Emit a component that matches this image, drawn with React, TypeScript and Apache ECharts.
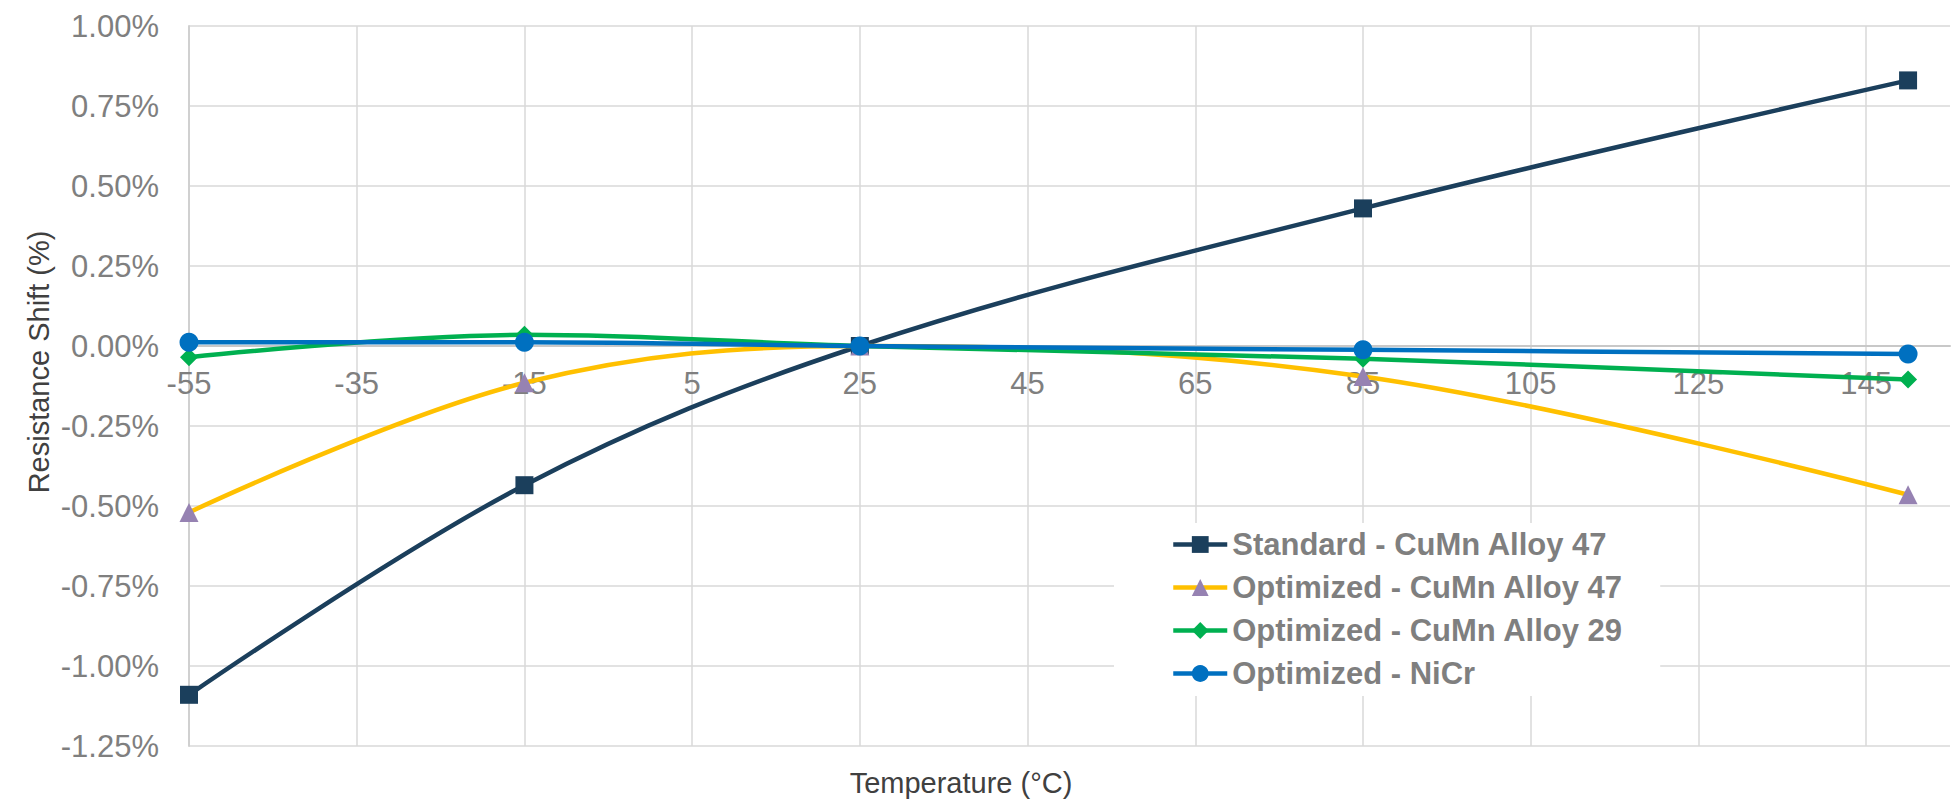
import React, { useEffect, useRef } from "react";
import * as echarts from "echarts";

const temperatures = [-55, -15, 25, 85, 150];
const standardCuMn47 = [-1.09, -0.435, 0, 0.43, 0.83];
const optimizedCuMn47 = [-0.52, -0.115, 0, -0.095, -0.465];
const optimizedCuMn29 = [-0.035, 0.035, 0, -0.04, -0.105];
const optimizedNiCr = [0.012, 0.012, 0, -0.012, -0.025];

const seriesNames = [
  "Standard - CuMn Alloy 47",
  "Optimized - CuMn Alloy 47",
  "Optimized - CuMn Alloy 29",
  "Optimized - NiCr",
];

const FONT = "'Liberation Sans', Arial, Helvetica, sans-serif";

function pairs(values: number[]) {
  return temperatures.map((t, i) => [t, values[i]]);
}

export default function App() {
  const ref = useRef<HTMLDivElement>(null);

  useEffect(() => {
    if (!ref.current) return;
    const chart = echarts.init(ref.current, null, { renderer: "svg" });

    const mk = (
      name: string,
      values: number[],
      lineColor: string,
      markerColor: string,
      symbol: string,
      size: number | number[]
    ) => ({
      name,
      type: "line",
      data: pairs(values),
      smooth: 0.36,
      symbol,
      symbolSize: size,
      showAllSymbol: true,
      lineStyle: { color: lineColor, width: 4.5 },
      itemStyle: { color: markerColor, borderWidth: 0 },
      emphasis: { disabled: true },
    });

    chart.setOption({
      animation: false,
      backgroundColor: "#ffffff",
      textStyle: { fontFamily: FONT },
      grid: { left: 189, top: 26, width: 1761, height: 720, containLabel: false },
      xAxis: {
        type: "value",
        min: -55,
        max: 155,
        interval: 20,
        offset: -400,
        axisLine: { onZero: false, lineStyle: { color: "#c8c8c8", width: 2 } },
        axisTick: { show: false },
        axisLabel: {
          color: "#7f7f7f",
          fontSize: 31,
          fontFamily: FONT,
          margin: 22,
          showMaxLabel: false,
          formatter: (v: number) => (v > 150 ? "" : String(v)),
        },
        splitLine: {
          show: true,
          showMinLine: false,
          showMaxLine: false,
          lineStyle: { color: "#d9d9d9", width: 1.5 },
        },
      },
      yAxis: {
        type: "value",
        min: -1.25,
        max: 1.0,
        interval: 0.25,
        axisLine: { show: true, onZero: false, lineStyle: { color: "#d0d0d0", width: 2 } },
        axisTick: { show: false },
        axisLabel: {
          color: "#7f7f7f",
          fontSize: 31,
          fontFamily: FONT,
          margin: 30,
          formatter: (v: number) => v.toFixed(2) + "%",
        },
        splitLine: { show: true, lineStyle: { color: "#d9d9d9", width: 1.5 } },
      },
      legend: {
        orient: "vertical",
        left: 1114,
        top: 523,
        padding: [6, 37, 7, 57],
        backgroundColor: "#ffffff",
        itemWidth: 54,
        itemHeight: 21,
        itemGap: 12,
        lineStyle: { width: 4.5 },
        textStyle: {
          color: "#7f7f7f",
          fontSize: 31,
          fontWeight: "bold",
          fontFamily: FONT,
          lineHeight: 31,
        },
        data: seriesNames,
      },
      graphic: [
        {
          type: "text",
          x: 961,
          y: 783,
          style: {
            text: "Temperature (°C)",
            fill: "#404040",
            font: `29px ${FONT}`,
            textAlign: "center",
            textVerticalAlign: "middle",
          },
        },
        {
          type: "text",
          x: 39,
          y: 362,
          rotation: Math.PI / 2,
          style: {
            text: "Resistance Shift (%)",
            fill: "#404040",
            font: `29px ${FONT}`,
            textAlign: "center",
            textVerticalAlign: "middle",
          },
        },
      ],
      series: [
        mk(seriesNames[0], standardCuMn47, "#1b3f5c", "#1b3f5c", "rect", 18),
        mk(seriesNames[1], optimizedCuMn47, "#ffc000", "#9682b2", "triangle", 19),
        mk(seriesNames[2], optimizedCuMn29, "#00b050", "#00b050", "diamond", 18),
        mk(seriesNames[3], optimizedNiCr, "#0070c0", "#0070c0", "circle", 19),
      ],
    });

    return () => chart.dispose();
  }, []);

  return (
    <div
      ref={ref}
      style={{ position: "fixed", left: 0, top: 0, width: 1959, height: 806 }}
    />
  );
}
